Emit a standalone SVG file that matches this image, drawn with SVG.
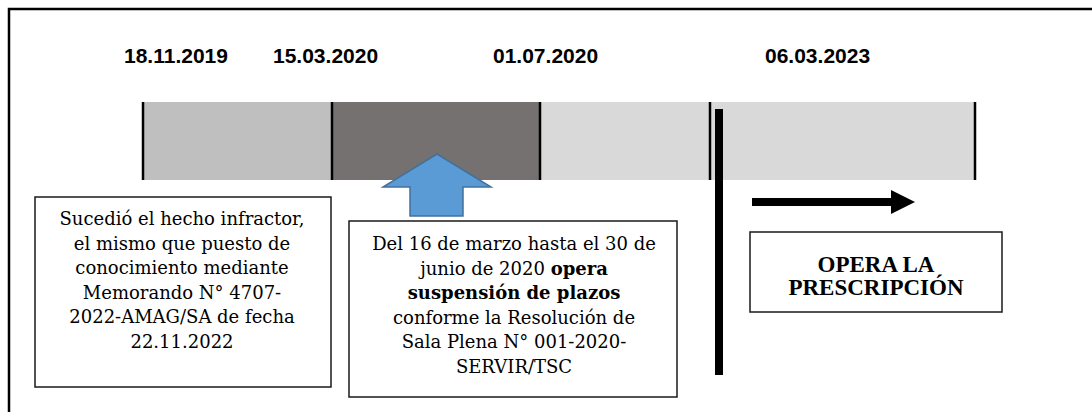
<svg xmlns="http://www.w3.org/2000/svg" width="1092" height="412" viewBox="0 0 1092 412">
<style>
.date{font-family:"Liberation Sans",Arial,sans-serif;font-weight:bold;font-size:21px;fill:#000}
.box{fill:#fff;stroke:#1a1a1a;stroke-width:1.5}
.txt{font-family:"DejaVu Serif","Liberation Serif",serif;font-size:18px;fill:#000;text-anchor:middle}
.bt{font-family:"Liberation Serif","Times New Roman",serif;font-weight:bold;font-size:23px;fill:#000;text-anchor:middle}
.div{stroke:#000;stroke-width:2.5}
</style>
<rect width="1092" height="412" fill="#fff"/>
<path d="M9 412 V9 H1092" fill="none" stroke="#000" stroke-width="2.5"/>
<g id="dates">
<text class="date" x="124" y="63">18.11.2019</text>
<text class="date" x="273" y="63">15.03.2020</text>
<text class="date" x="493" y="63">01.07.2020</text>
<text class="date" x="765" y="63">06.03.2023</text>
</g>
<g id="timeline">
<rect x="143" y="102" width="189" height="78" fill="#bfbfbf"/>
<rect x="332" y="102" width="208" height="78" fill="#767171"/>
<rect x="540" y="102" width="170" height="78" fill="#d9d9d9"/>
<rect x="710" y="102" width="265" height="78" fill="#d9d9d9"/>
<line class="div" x1="143" y1="102" x2="143" y2="180"/>
<line class="div" x1="332" y1="102" x2="332" y2="180"/>
<line class="div" x1="540" y1="102" x2="540" y2="180"/>
<line class="div" x1="710" y1="102" x2="710" y2="180"/>
<line class="div" x1="975" y1="102" x2="975" y2="180"/>
</g>
<g id="connectors">
<polygon points="437,154 491,187 463,187 463,216 410,216 410,187 383,187" fill="#5b9bd5" stroke="#41719c" stroke-width="1.5"/>
<rect x="715" y="109" width="8" height="266" fill="#000"/>
<rect x="752" y="198" width="141" height="8" fill="#000"/>
<polygon points="891,190 915,202 891,214" fill="#000"/>
</g>
<g id="box1">
<rect class="box" x="35" y="197" width="296" height="190"/>
<text class="txt" x="182"><tspan x="182" y="225">Sucedió el hecho infractor,</tspan><tspan x="182" y="249.5">el mismo que puesto de</tspan><tspan x="182" y="274">conocimiento mediante</tspan><tspan x="182" y="298.5">Memorando N° 4707-</tspan><tspan x="182" y="323">2022-AMAG/SA de fecha</tspan><tspan x="182" y="347.5">22.11.2022</tspan></text>
</g>
<g id="box2">
<rect class="box" x="349" y="221" width="328" height="176"/>
<text class="txt" x="514"><tspan x="514" y="250">Del 16 de marzo hasta el 30 de</tspan><tspan x="514" y="274.5">junio de 2020 <tspan font-weight="bold">opera</tspan></tspan><tspan x="514" y="299" font-weight="bold">suspensión de plazos</tspan><tspan x="514" y="323.5">conforme la Resolución de</tspan><tspan x="514" y="348">Sala Plena N° 001-2020-</tspan><tspan x="514" y="372.5">SERVIR/TSC</tspan></text>
</g>
<g id="box3">
<rect class="box" x="750" y="232" width="252" height="80"/>
<text class="bt"><tspan x="876" y="272">OPERA LA</tspan><tspan x="876" y="295">PRESCRIPCIÓN</tspan></text>
</g>
</svg>
